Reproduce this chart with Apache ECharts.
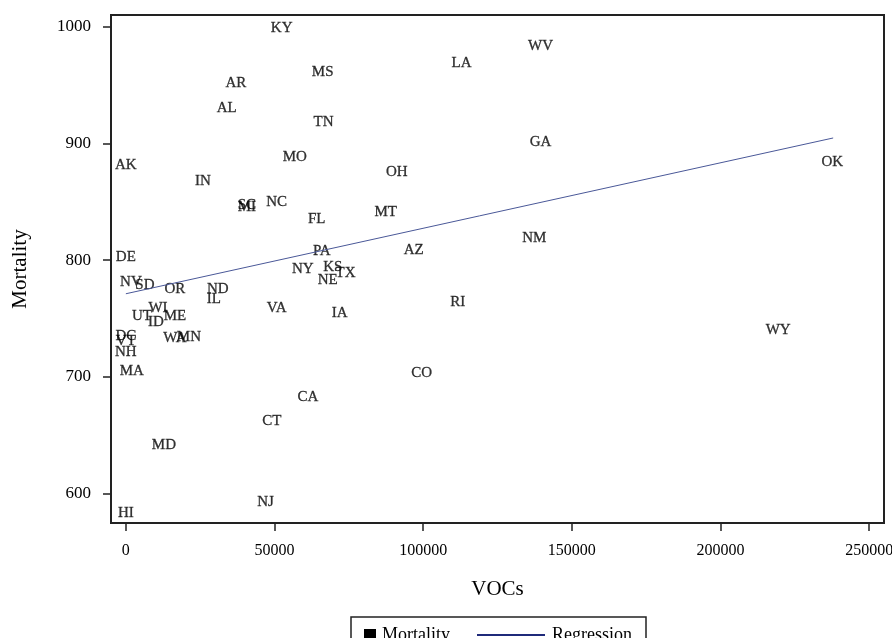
<!DOCTYPE html>
<html>
<head>
<meta charset="utf-8">
<script src="https://cdn.jsdelivr.net/npm/echarts@6/dist/echarts.min.js"></script>
<style>
  html, body { margin: 0; padding: 0; background: #fff; }
  #chart { width: 892px; height: 638px; }
</style>
</head>
<body>
<div id="chart"></div>
<script>
// state labels with VOCs (x) and Mortality (y)
const states = ['KY', 'AR', 'AL', 'MS', 'TN', 'LA', 'WV', 'GA', 'MO', 'AK',
  'IN', 'SC', 'MI', 'NC', 'OH', 'MT', 'FL', 'OK', 'NM', 'AZ',
  'PA', 'DE', 'NY', 'KS', 'TX', 'NE', 'NV', 'SD', 'OR', 'ND',
  'IL', 'RI', 'WI', 'VA', 'IA', 'UT', 'ME', 'ID', 'DC', 'VT',
  'WA', 'MN', 'NH', 'MA', 'WY', 'CO', 'CA', 'CT', 'MD', 'NJ', 'HI'];
const vocs = [52400, 37000, 33900, 66200, 66500, 112900, 139500, 139500, 56800, 0,
  25900, 40700, 40700, 50700, 91100, 87400, 64200, 237600, 137400, 96800,
  65900, 0, 59500, 69600, 73900, 67900, 1700, 6400, 16500, 30900,
  29600, 111600, 10800, 50700, 71900, 5400, 16500, 10100, 0, 0,
  16500, 21200, 0, 2000, 219400, 99500, 61200, 49100, 12800, 47000, 0];
const mortality = [1000, 953, 931, 962, 919, 970, 984, 902, 889, 882,
  869, 848, 846, 851, 876, 842, 836, 885, 820, 810,
  809, 804, 793, 795, 790, 784, 782, 780, 776, 776,
  768, 765, 760, 760, 756, 753, 753, 748, 736, 732,
  734, 735, 722, 706, 741, 704, 684, 663, 643, 594, 584];

// fitted line end points
const regX = [0, 237900];
const regY = [771.3, 904.7];

const xTicks = [0, 50000, 100000, 150000, 200000, 250000];
const yTicks = [600, 700, 800, 900, 1000];

const chart = echarts.init(document.getElementById('chart'), null, { renderer: 'canvas' });

const font = 'Liberation Serif, Times New Roman, serif';

chart.setOption({
  backgroundColor: '#fff',
  animation: false,
  textStyle: { fontFamily: font, color: '#000' },
  grid: {
    left: 111, top: 15, width: 773, height: 508,
    outerBoundsMode: 'none',
    containLabel: false,
    show: true, borderColor: '#222', borderWidth: 2
  },
  legend: [
    {
      left: 359, top: 621,
      itemWidth: 12, itemHeight: 12,
      textStyle: { fontFamily: font, fontSize: 18, color: '#000', padding: [0, 0, 0, 1] },
      data: [{ name: 'Mortality', icon: 'rect', itemStyle: { color: '#000', opacity: 1 } }]
    },
    {
      left: 472, top: 621,
      itemWidth: 68, itemHeight: 2,
      textStyle: { fontFamily: font, fontSize: 18, color: '#000', padding: [0, 0, 0, 2] },
      data: [{ name: 'Regression', icon: 'rect', itemStyle: { color: '#1f2a7a' } }]
    }
  ],
  graphic: [{
    type: 'rect',
    shape: { x: 351, y: 617, width: 295, height: 26 },
    style: { fill: 'none', stroke: '#222', lineWidth: 1.5 },
    silent: true
  }],
  xAxis: {
    type: 'value',
    min: -5000, max: 255000,
    name: 'VOCs',
    nameLocation: 'middle',
    nameGap: 56,
    nameTextStyle: { fontFamily: font, fontSize: 21, color: '#000' },
    axisLine: { show: true, onZero: false, lineStyle: { color: '#222', width: 2 } },
    axisTick: { show: true, inside: false, length: 8, customValues: xTicks, lineStyle: { color: '#222', width: 1.5 } },
    axisLabel: {
      customValues: xTicks, margin: 20, fontFamily: font, fontSize: 16, color: '#000',
      formatter: (v) => String(v)
    },
    splitLine: { show: false }
  },
  yAxis: {
    type: 'value',
    min: 575, max: 1010,
    name: 'Mortality',
    nameLocation: 'middle',
    nameGap: 80,
    nameTextStyle: { fontFamily: font, fontSize: 21, color: '#000' },
    axisLine: { show: true, onZero: false, lineStyle: { color: '#222', width: 2 } },
    axisTick: { show: true, inside: false, length: 8, customValues: yTicks, lineStyle: { color: '#222', width: 1.5 } },
    axisLabel: {
      customValues: yTicks, margin: 20, fontFamily: font, fontSize: 17, color: '#000',
      formatter: (v) => String(v)
    },
    splitLine: { show: false }
  },
  series: [
    {
      name: 'Mortality',
      type: 'scatter',
      symbolSize: 1,
      itemStyle: { color: 'rgba(0,0,0,0)' },
      label: {
        show: true,
        position: 'inside',
        offset: [0, 1],
        formatter: (p) => p.data[2],
        fontFamily: font,
        fontSize: 15,
        color: '#000',
        textBorderColor: '#000',
        textBorderWidth: 0.3
      },
      emphasis: { disabled: true },
      data: states.map((s, i) => [vocs[i], mortality[i], s])
    },
    {
      name: 'Regression',
      type: 'line',
      symbol: 'none',
      lineStyle: { color: '#4a5898', width: 1 },
      itemStyle: { color: '#1f2a7a' },
      data: regX.map((x, i) => [x, regY[i]])
    }
  ]
});
</script>
</body>
</html>
